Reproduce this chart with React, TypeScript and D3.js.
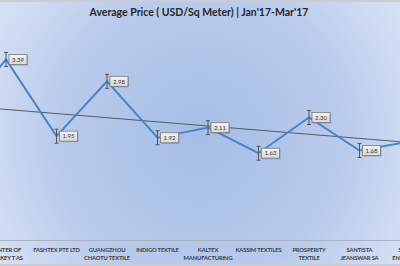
import React from "react";
import * as d3 from "d3";

const categories: string[][] = [
  ["BEYOND", "TEXTILE"],
  ["CENTER OF", "TURKEY T AS"],
  ["FASHTEX PTE LTD"],
  ["GUANGZHOU", "CHAOTU TEXTILE"],
  ["INDIGO TEXTILE"],
  ["KALTEX", "MANUFACTURING"],
  ["KASSIM TEXTILES"],
  ["PROSPERITY", "TEXTILE"],
  ["SANTISTA", "JEANSWAR SA"],
  ["SUNRISE", "ENTERPRISES"],
];
const prices: number[] = [2.25, 3.39, 1.95, 2.98, 1.92, 2.11, 1.63, 2.3, 1.68, 1.85];
const trendValues: number[] = [2.53, 1.83];
const title = "Average Price ( USD/Sq Meter) | Jan'17-Mar'17";

const W = 400;
const H = 266;

export default function App() {
  const idx = categories.map((_, i) => i);
  const x = d3.scalePoint<number>().domain(idx).range([-44.5, 410]);
  const y = d3.scaleLinear().domain([0, 4]).range([240, 27]);
  const line = d3
    .line<number>()
    .x((_, i) => x(i) as number)
    .y((d) => y(d));
  const trendX0 = x(0) as number;
  const trendX1 = x(categories.length - 1) as number;
  const font = "Lato, 'Open Sans', 'DejaVu Sans', sans-serif";
  return (
    <svg
      width={W}
      height={H}
      style={{ position: "absolute", left: 0, top: 0, display: "block" }}
    >
      <defs>
        <radialGradient id="bg" cx="200" cy="140" r="260" gradientUnits="userSpaceOnUse">
          <stop offset="0" stopColor="#a6bde6" />
          <stop offset="0.55" stopColor="#b9cbec" />
          <stop offset="1" stopColor="#dde6f5" />
        </radialGradient>
        <linearGradient id="lbl" x1="0" y1="0" x2="0" y2="1">
          <stop offset="0" stopColor="#f4f4f4" />
          <stop offset="1" stopColor="#d8d8d8" />
        </linearGradient>
      </defs>
      <rect x={0} y={0} width={W} height={H} fill="url(#bg)" />
      <rect x={0} y={0} width={W} height={2} fill="#c9ccd2" />
      <rect x={0} y={H - 2} width={W} height={2} fill="#c9ccd2" />
      <text
        x={199}
        y={16}
        textAnchor="middle"
        fontFamily={font}
        fontWeight="bold"
        fontSize={10.5}
        fill="#262626"
      >
        {title}
      </text>
      <line x1={0} x2={W} y1={y(0) + 0.5} y2={y(0) + 0.5} stroke="#a9b3c4" strokeWidth={1} />
      <line
        x1={trendX0}
        x2={trendX1}
        y1={y(trendValues[0])}
        y2={y(trendValues[1])}
        stroke="#555b66"
        strokeWidth={1}
      />
      <path d={line(prices) || ""} fill="none" stroke="#4a84c6" strokeWidth={2} />
      {prices.map((p, i) => {
        const cx = x(i) as number;
        const cy = y(p);
        return (
          <g key={i}>
            <line x1={cx} x2={cx} y1={cy - 7} y2={cy + 7} stroke="#555" strokeWidth={1} />
            <line x1={cx - 2} x2={cx + 2} y1={cy - 7} y2={cy - 7} stroke="#555" strokeWidth={1} />
            <line x1={cx - 2} x2={cx + 2} y1={cy + 7} y2={cy + 7} stroke="#555" strokeWidth={1} />
            <rect x={cx + 4} y={cy - 4} width={18} height={10} fill="#6b7384" opacity={0.5} />
            <rect x={cx + 3} y={cy - 5} width={18} height={10} fill="url(#lbl)" stroke="#7a7a7a" strokeWidth={0.8} />
            <text
              x={cx + 12}
              y={cy + 2.2}
              textAnchor="middle"
              fontFamily={font}
              fontSize={6}
              fill="#333"
            >
              {p.toFixed(2)}
            </text>
          </g>
        );
      })}
      {categories.map((lines, i) => (
        <text
          key={i}
          x={x(i) as number}
          y={251.5}
          textAnchor="middle"
          fontFamily={font}
          fontWeight="bold"
          fontSize={5.8}
          letterSpacing={-0.15}
          fill="#404040"
        >
          {lines.map((t, j) => (
            <tspan key={j} x={x(i) as number} dy={j === 0 ? 0 : 8}>
              {t}
            </tspan>
          ))}
        </text>
      ))}
    </svg>
  );
}
